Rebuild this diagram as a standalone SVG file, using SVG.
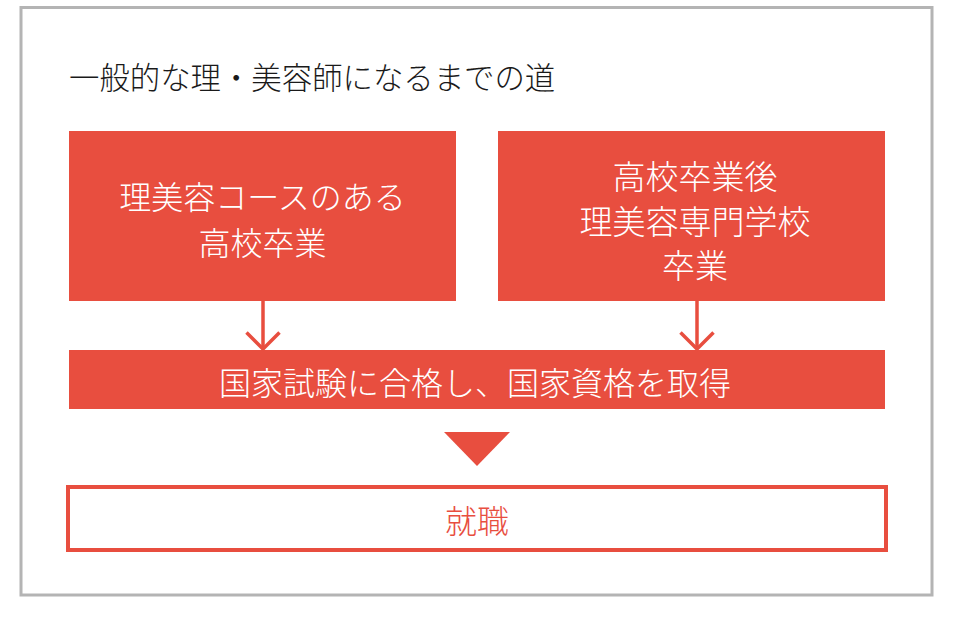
<svg xmlns="http://www.w3.org/2000/svg" width="965" height="623" viewBox="0 0 965 623">
  <style>
    .txt { font-family: "Noto Sans CJK JP", "Noto Sans", sans-serif; font-weight: 300; }
    .white { fill: #ffffff; font-size: 32px; text-anchor: middle; }
    .big { font-size: 33px; }
    .red { fill: #e84e3f; }
    .conn { stroke: #e84e3f; stroke-width: 3.5; fill: none; }
  </style>
  <rect x="0" y="0" width="965" height="623" fill="#ffffff"/>
  <rect id="frame" x="21" y="7.5" width="911" height="587.5" fill="#ffffff" stroke="#b4b4b4" stroke-width="3"/>
  <text id="title" class="txt" x="69" y="88.5" font-size="30.4" fill="#1a1a1a">一般的な理・美容師になるまでの道</text>

  <g id="node-left">
    <rect class="red" x="69" y="131" width="387" height="170"/>
    <text class="txt white" x="262.5" y="209">理美容コースのある</text>
    <text class="txt white" x="262.5" y="255">高校卒業</text>
  </g>

  <g id="node-right">
    <rect class="red" x="498" y="131" width="387" height="170"/>
    <text class="txt white big" x="695" y="189">高校卒業後</text>
    <text class="txt white big" x="695" y="233.5">理美容専門学校</text>
    <text class="txt white big" x="695" y="278">卒業</text>
  </g>

  <g id="node-exam">
    <rect class="red" x="69" y="350" width="816" height="59"/>
    <text class="txt white" x="475" y="394.5">国家試験に合格し、国家資格を取得</text>
  </g>

  <g id="node-job">
    <rect x="68" y="487" width="818" height="63" fill="#ffffff" stroke="#e84e3f" stroke-width="4"/>
    <text class="txt red" x="477" y="533" font-size="32" text-anchor="middle">就職</text>
  </g>

  <g id="connectors">
    <line class="conn" x1="263" y1="301" x2="263" y2="349"/>
    <polyline class="conn" points="246.5,332.5 263,349 279.5,332.5"/>
    <line class="conn" x1="697" y1="301" x2="697" y2="349"/>
    <polyline class="conn" points="680.5,332.5 697,349 713.5,332.5"/>
    <polygon class="red" points="444,432 510,432 477,466"/>
  </g>
</svg>
